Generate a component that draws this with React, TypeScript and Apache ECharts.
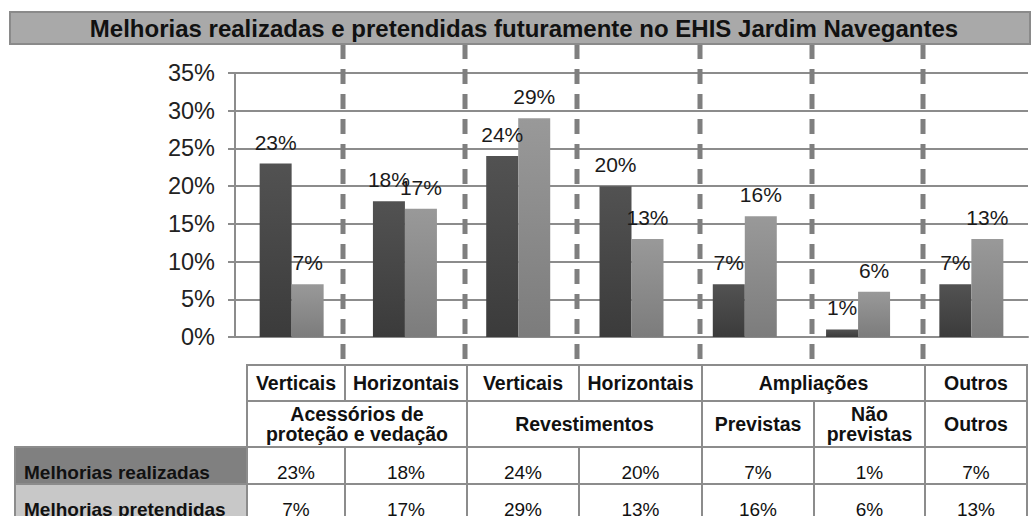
import { useEffect, useRef } from "react";
import * as echarts from "echarts";

const chartTitle = "Melhorias realizadas e pretendidas futuramente no EHIS Jardim Navegantes";
const categories = [
  "Acessórios de proteção e vedação – Verticais",
  "Acessórios de proteção e vedação – Horizontais",
  "Revestimentos – Verticais",
  "Revestimentos – Horizontais",
  "Ampliações – Previstas",
  "Ampliações – Não previstas",
  "Outros",
];
const seriesNames = ["Melhorias realizadas", "Melhorias pretendidas"];
const realizadas = [23, 18, 24, 20, 7, 1, 7];
const pretendidas = [7, 17, 29, 13, 16, 6, 13];
const row1Labels = ["Verticais", "Horizontais", "Verticais", "Horizontais", "Ampliações", "Outros"];
const row1Spans = [1, 1, 1, 1, 2, 1];
const row2Labels = ["Acessórios de\nproteção e vedação", "Revestimentos", "Previstas", "Não\nprevistas", "Outros"];
const row2Spans = [2, 2, 1, 1, 1];

const FONT = '"Liberation Sans", Arial, sans-serif';
const colX = [247, 345, 467, 579, 702, 814, 925, 1027];
const rowY = [365, 401, 447, 484, 521];
const GRID = "#8c8c8c";

function cellText(text: string, x: number, y: number, size: number, bold: boolean, align = "center") {
  return {
    type: "text",
    z: 20,
    style: {
      text,
      x,
      y,
      fill: "#111",
      font: `${bold ? "bold " : ""}${size}px ${FONT}`,
      fontSize: size,
      fontWeight: bold ? "bold" : "normal",
      fontFamily: FONT,
      align,
      verticalAlign: "middle",
      textAlign: align,
      textVerticalAlign: "middle",
      lineHeight: 20,
    },
  };
}

function cellRect(x: number, y: number, w: number, h: number, fill = "#fff") {
  return {
    type: "rect",
    z: 15,
    shape: { x, y, width: w, height: h },
    style: { fill, stroke: GRID, lineWidth: 2 },
  };
}

function buildGraphic() {
  const els: any[] = [];
  // title bar
  els.push({
    type: "rect",
    z: 10,
    shape: { x: 10, y: 12, width: 1020, height: 32 },
    style: { fill: "#a9a9a9", stroke: "#8a8a8a", lineWidth: 2 },
  });
  els.push(cellText(chartTitle, 524, 28, 24, true));
  // dashed separators
  for (let i = 1; i < colX.length - 1; i++) {
    els.push({
      type: "line",
      z: 1,
      shape: { x1: colX[i] - 2, y1: 44, x2: colX[i] - 2, y2: 365 },
      style: { stroke: "#7f7f7f", lineWidth: 5, lineDash: [15, 10] },
    });
  }
  // header row 1
  let c = 0;
  row1Labels.forEach((lab, i) => {
    const x0 = colX[c];
    const x1 = colX[c + row1Spans[i]];
    els.push(cellRect(x0, rowY[0], x1 - x0, rowY[1] - rowY[0]));
    els.push(cellText(lab, (x0 + x1) / 2, (rowY[0] + rowY[1]) / 2, 19.5, true));
    c += row1Spans[i];
  });
  c = 0;
  row2Labels.forEach((lab, i) => {
    const x0 = colX[c];
    const x1 = colX[c + row2Spans[i]];
    els.push(cellRect(x0, rowY[1], x1 - x0, rowY[2] - rowY[1]));
    els.push(cellText(lab, (x0 + x1) / 2, (rowY[1] + rowY[2]) / 2, 19.5, true));
    c += row2Spans[i];
  });
  const rows = [realizadas, pretendidas];
  const fills = ["#808080", "#c8c8c8"];
  rows.forEach((vals, r) => {
    const y0 = rowY[2 + r];
    const y1 = rowY[3 + r];
    els.push(cellRect(15, y0, colX[0] - 15, y1 - y0, fills[r]));
    els.push(cellText(seriesNames[r], 24, (y0 + y1) / 2 + 7, 19, true, "left"));
    vals.forEach((v, i) => {
      els.push(cellRect(colX[i], y0, colX[i + 1] - colX[i], y1 - y0));
      els.push(cellText(`${v}%`, (colX[i] + colX[i + 1]) / 2, (y0 + y1) / 2 + 7, 19, false));
    });
  });
  return els;
}

export default function App() {
  const ref = useRef<HTMLDivElement>(null);
  useEffect(() => {
    document.body.style.margin = "0";
    if (!ref.current) return;
    const chart = echarts.init(ref.current, undefined, { renderer: "svg" });
    const label = {
      show: true,
      position: "top",
      distance: 11,
      fontSize: 21,
      color: "#1a1a1a",
      fontFamily: FONT,
      formatter: "{c}%",
    };
    chart.setOption({
      animation: false,
      backgroundColor: "#fff",
      textStyle: { fontFamily: FONT },
      grid: { left: 235, right: 5, top: 73, bottom: 179, containLabel: false },
      xAxis: {
        type: "category",
        data: categories,
        axisLabel: { show: false },
        axisTick: { show: false },
        axisLine: { show: true, lineStyle: { color: GRID, width: 2 } },
        splitLine: { show: false },
      },
      yAxis: {
        type: "value",
        min: 0,
        max: 35,
        interval: 5,
        axisLabel: { formatter: "{value}%", fontSize: 23.5, color: "#222", margin: 20, fontFamily: FONT },
        axisLine: { show: true, lineStyle: { color: GRID, width: 2 } },
        axisTick: { show: true, length: 7, lineStyle: { color: GRID, width: 2 } },
        splitLine: { show: true, lineStyle: { color: GRID, width: 2 } },
      },
      series: [
        {
          name: seriesNames[0],
          type: "bar",
          data: realizadas,
          barWidth: 32,
          barGap: "0%",
          itemStyle: {
            color: new echarts.graphic.LinearGradient(0, 0, 0, 1, [
              { offset: 0, color: "#525252" },
              { offset: 1, color: "#3b3b3b" },
            ]),
          },
          label,
        },
        {
          name: seriesNames[1],
          type: "bar",
          data: pretendidas,
          barWidth: 32,
          barGap: "0%",
          itemStyle: {
            color: new echarts.graphic.LinearGradient(0, 0, 0, 1, [
              { offset: 0, color: "#999999" },
              { offset: 1, color: "#7c7c7c" },
            ]),
          },
          label,
        },
      ],
      graphic: buildGraphic(),
    });
    return () => chart.dispose();
  }, []);
  return <div ref={ref} style={{ width: 1033, height: 516 }} />;
}
